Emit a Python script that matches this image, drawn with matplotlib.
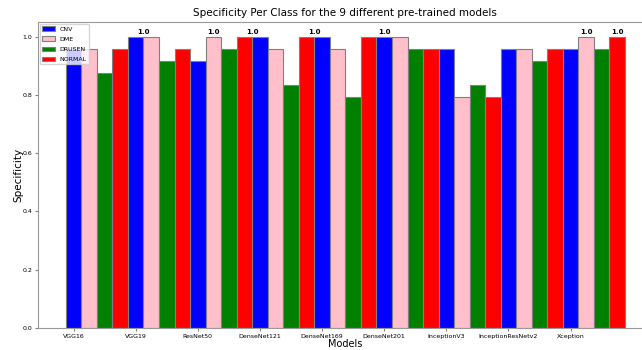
import numpy as np
import matplotlib
matplotlib.use("Agg")
import matplotlib.pyplot as plt

models = ["VGG16", "VGG19", "ResNet50", "DenseNet121", "DenseNet169",
          "DenseNet201", "InceptionV3", "InceptionResNetv2", "Xception"]
classes = ["CNV", "DME", "DRUSEN", "NORMAL"]
colors = ["blue", "pink", "green", "red"]

cnv = [0.958, 1.0, 0.917, 1.0, 1.0, 1.0, 0.958, 0.958, 0.958]
dme = [0.958, 1.0, 1.0, 0.958, 0.958, 1.0, 0.792, 0.958, 1.0]
drusen = [0.875, 0.917, 0.958, 0.833, 0.792, 0.958, 0.833, 0.917, 0.958]
normal = [0.958, 0.958, 1.0, 1.0, 1.0, 0.958, 0.792, 0.958, 1.0]

fig = plt.figure(figsize=(6.42, 3.5), dpi=100)
ax = fig.add_axes([0.059, 0.063, 0.958, 0.874])

x = np.arange(len(models))
w = 0.25
series = [cnv, dme, drusen, normal]
for i, vals in enumerate(series):
    ax.bar(x + i * w, vals, w, color=colors[i], edgecolor="grey",
           linewidth=0.8, label=classes[i])

# label each run of perfect scores once, centred over the run
pos = np.array([[m + i * w for i in range(4)] for m in x]).ravel()
val = np.array(series).T.ravel()
run = []
for p, v in zip(pos, val):
    if v == 1.0:
        run.append(p)
    elif run:
        ax.text(np.mean(run), 1.005, "1.0", ha="center", va="bottom",
                fontsize=5, fontweight="bold")
        run = []
if run:
    ax.text(np.mean(run), 1.005, "1.0", ha="center", va="bottom",
            fontsize=5, fontweight="bold")

ax.set_xticks(x)
ax.set_xticklabels(models)
ax.tick_params(labelsize=4.5, length=2, pad=2, color="grey")
ax.set_xlim(-0.575, 9.325)
ax.set_ylim(0, 1.05)
ax.set_yticks([0.0, 0.2, 0.4, 0.6, 0.8, 1.0])
for s in ax.spines.values():
    s.set_color("#999999")

ax.set_title("Specificity Per Class for the 9 different pre-trained models",
             fontsize=7.5, pad=4)
ax.set_xlabel("Models", fontsize=7, labelpad=0)
ax.set_ylabel("Specificity", fontsize=7.5, labelpad=-1)
ax.legend(loc="upper left", fontsize=4.5, borderaxespad=0.3,
          labelspacing=0.75)

fig.savefig("out.png", dpi=100)
